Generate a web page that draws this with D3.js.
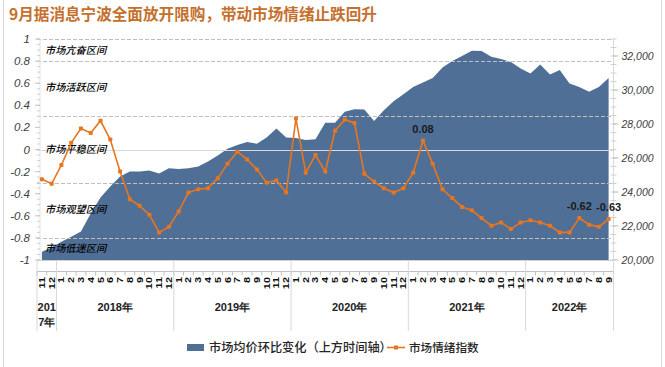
<!DOCTYPE html>
<html><head><meta charset="utf-8">
<script src="https://cdn.jsdelivr.net/npm/d3@7"></script>
<style>
html,body{margin:0;padding:0;background:#fff;}
svg{display:block;}
</style></head>
<body>
<svg id="c" width="665" height="367"></svg>
<script>
const titleText = "9月据消息宁波全面放开限购，带动市场情绪止跌回升";
const monthLabels = ["11","12",
 "1","2","3","4","5","6","7","8","9","10","11","12",
 "1","2","3","4","5","6","7","8","9","10","11","12",
 "1","2","3","4","5","6","7","8","9","10","11","12",
 "1","2","3","4","5","6","7","8","9","10","11","12",
 "1","2","3","4","5","6","7","8","9"];
const yearLabels = ["2017年","2018年","2019年","2020年","2021年","2022年"];
const yearCounts = [2,12,12,12,12,9];
const priceValues = [20490,20730,21080,21370,21670,22730,23680,24320,24910,25200,
 25200,25270,25090,25390,25360,25390,25500,25800,26150,26540,
 26770,26940,26840,27200,27730,27200,27170,27060,27110,28080,
 28080,28720,28870,28850,28180,28810,29340,29750,30180,30440,
 30700,31320,31700,32000,32310,32290,31950,31820,31640,31260,
 30970,31500,30910,31170,30380,30180,29890,30180,30710];
const sentimentValues = [-0.27,-0.31,-0.14,0.06,0.19,0.15,0.26,0.09,-0.20,-0.45,
 -0.51,-0.59,-0.75,-0.70,-0.56,-0.39,-0.36,-0.35,-0.26,-0.13,
 -0.02,-0.09,-0.18,-0.30,-0.28,-0.39,0.28,-0.21,-0.05,-0.20,
 0.17,0.27,0.24,-0.22,-0.29,-0.35,-0.39,-0.35,-0.21,0.08,
 -0.13,-0.36,-0.44,-0.52,-0.55,-0.62,-0.69,-0.66,-0.72,-0.66,
 -0.64,-0.66,-0.69,-0.75,-0.75,-0.62,-0.68,-0.70,-0.63];
const labeledIndex = [39,55,58];
const leftTicks = [1,0.8,0.6,0.4,0.2,0,-0.2,-0.4,-0.6,-0.8,-1];
const rightTicks = [20000,22000,24000,26000,28000,30000,32000];
const zoneLines = [1,0.8,0.3,-0.3,-0.8];
const zoneNames = ["市场亢奋区间","市场活跃区间","市场平稳区间","市场观望区间","市场低迷区间"];
const zoneLabelPos = [0.9,0.56,0.0,-0.54,-0.89];
const legendNames = ["市场均价环比变化（上方时间轴）","市场情绪指数"];

const areaColor = "#4F6F97", lineColor = "#E8761E";
const svg = d3.select("#c");
const idx = d3.range(monthLabels.length);
const x = d3.scaleBand().domain(idx).range([37, 613.5]).padding(0);
const cx = i => x(i) + x.bandwidth()/2;
const yL = d3.scaleLinear().domain([-1,1]).range([260,39]);
const yR = d3.scaleLinear().domain([20000,33000]).range([260,39]);

// frame
svg.append("rect").attr("x",3.5).attr("y",-1).attr("width",658).attr("height",369)
  .attr("fill","none").attr("stroke","#d9d9d9");

// title
svg.append("text").attr("x",9).attr("y",20).text(titleText)
  .attr("font-family","'Noto Sans CJK SC'").attr("font-weight","bold")
  .attr("font-size",15.6).attr("fill","#C5702D");

// area
const area = d3.area().x((d,i)=>cx(i)).y0(yR(20000)).y1(d=>yR(d));
svg.append("path").datum(priceValues).attr("d",area).attr("fill",areaColor);

// gridlines
svg.append("g").selectAll("line").data(zoneLines).join("line")
  .attr("x1",37).attr("x2",613).attr("y1",d=>Math.round(yL(d))+0.5).attr("y2",d=>Math.round(yL(d))+0.5)
  .attr("stroke","#bfbfbf").attr("stroke-dasharray","4,2").attr("stroke-width",1);
svg.append("line").attr("x1",37).attr("x2",613).attr("y1",Math.round(yL(0))+0.5).attr("y2",Math.round(yL(0))+0.5)
  .attr("stroke","#d9d9d9").attr("stroke-width",1.2);
svg.append("line").attr("x1",37).attr("x2",613).attr("y1",Math.round(yL(-1))+0.5).attr("y2",Math.round(yL(-1))+0.5)
  .attr("stroke","#d0d0d0").attr("stroke-width",1);

// left axis
const gL = svg.append("g").attr("transform","translate(40,0)");
gL.append("line").attr("y1",yL(1)).attr("y2",yL(-1)).attr("stroke","#e3e3e3");
gL.selectAll("line.mn").data(d3.range(-1,1.0001,0.05)).join("line").attr("class","mn")
  .attr("x1",-3).attr("x2",0).attr("y1",d=>yL(d)).attr("y2",d=>yL(d)).attr("stroke","#d0d0d0");
gL.selectAll("line.mj").data(leftTicks).join("line").attr("class","mj")
  .attr("x1",-5).attr("x2",0).attr("y1",d=>yL(d)).attr("y2",d=>yL(d)).attr("stroke","#c8c8c8");
gL.selectAll("text").data(leftTicks).join("text")
  .attr("x",-10).attr("y",d=>yL(d)).attr("dy","0.35em").attr("text-anchor","end")
  .attr("font-family","'Liberation Sans'").attr("font-style","italic").attr("font-size",11.5)
  .attr("fill","#404040").text(d=>d===0?"0":String(d));

// right axis
const gR = svg.append("g").attr("transform","translate(613.5,0)");
gR.append("line").attr("y1",yR(33000)).attr("y2",yR(20000)).attr("stroke","#d9d9d9");
gR.selectAll("line.mn").data(d3.range(20000,33001,500)).join("line").attr("class","mn")
  .attr("x1",-3).attr("x2",3).attr("y1",d=>yR(d)).attr("y2",d=>yR(d)).attr("stroke","#d0d0d0");
gR.selectAll("line.mj").data(rightTicks).join("line").attr("class","mj")
  .attr("x1",0).attr("x2",5).attr("y1",d=>yR(d)).attr("y2",d=>yR(d)).attr("stroke","#c0c0c0");
gR.selectAll("text").data(rightTicks).join("text")
  .attr("x",8).attr("y",d=>yR(d)).attr("dy","0.35em")
  .attr("font-family","'Liberation Sans'").attr("font-style","italic").attr("font-size",10.5)
  .attr("fill","#404040").text(d=>d3.format(",")(d));

// zone labels
svg.append("g").selectAll("text").data(zoneNames).join("text")
  .attr("x",45).attr("y",(d,i)=>yL(zoneLabelPos[i])).attr("dy","0.38em")
  .attr("font-family","'Noto Sans CJK SC'").attr("font-style","italic").attr("font-size",10.2)
  .attr("font-weight",500).attr("fill","#000").text(d=>d);

// sentiment line
const line = d3.line().x((d,i)=>cx(i)).y(d=>yL(d));
svg.append("path").datum(sentimentValues).attr("d",line).attr("fill","none")
  .attr("stroke",lineColor).attr("stroke-width",1.6);
svg.append("g").selectAll("rect").data(sentimentValues).join("rect")
  .attr("x",(d,i)=>cx(i)-2).attr("y",d=>yL(d)-2).attr("width",4).attr("height",4).attr("rx",0.8)
  .attr("fill",lineColor);
svg.append("g").selectAll("text").data(labeledIndex).join("text")
  .attr("x",i=>cx(i)).attr("y",i=>yL(sentimentValues[i])-8).attr("text-anchor","middle")
  .attr("font-family","'Liberation Sans'").attr("font-weight","bold").attr("font-size",11)
  .attr("fill","#1a1a1a").text(i=>sentimentValues[i].toFixed(2));

// x axis
const gx = svg.append("g");
gx.append("line").attr("x1",37).attr("x2",613.5).attr("y1",271.5).attr("y2",271.5).attr("stroke","#bfbfbf");
gx.selectAll("line.t").data(d3.range(monthLabels.length+1)).join("line").attr("class","t")
  .attr("x1",i=>x.range()[0]+i*x.bandwidth()).attr("x2",i=>x.range()[0]+i*x.bandwidth())
  .attr("y1",271.5).attr("y2",275.5).attr("stroke","#bfbfbf");
gx.selectAll("text.m").data(monthLabels).join("text").attr("class","m")
  .attr("transform",(d,i)=>`translate(${cx(i)},277) rotate(-90) scale(1.15,0.9)`)
  .attr("text-anchor","end").attr("dy","0.35em")
  .attr("font-family","'Liberation Sans'").attr("font-weight","bold").attr("font-size",9.5)
  .attr("fill","#111").text(d=>d);

// year groups
let starts = [], acc = 0;
yearCounts.forEach(c=>{starts.push(acc); acc+=c;});
const bounds = starts.concat([acc]);
gx.selectAll("line.y").data(bounds).join("line").attr("class","y")
  .attr("x1",b=>b<acc?x(b):x.range()[1]).attr("x2",b=>b<acc?x(b):x.range()[1])
  .attr("y1",261).attr("y2",331).attr("stroke","#d9d9d9");
yearLabels.forEach((lab,k)=>{
  const s = starts[k], e = s + yearCounts[k];
  const mid = (x(s) + (e<acc?x(e):x.range()[1]))/2;
  if (k===0) {
    const t = gx.append("text").attr("text-anchor","middle")
      .attr("font-family","'Liberation Sans'").attr("font-weight","bold").attr("font-size",11).attr("fill","#222");
    t.append("tspan").attr("x",mid).attr("y",311).text(lab.slice(0,3));
    t.append("tspan").attr("x",mid).attr("y",326).text(lab.slice(3));
  } else {
    gx.append("text").attr("x",mid).attr("y",311).attr("text-anchor","middle")
      .attr("font-family","'Liberation Sans'").attr("font-weight","bold").attr("font-size",11)
      .attr("fill","#222").text(lab);
  }
});

// legend
const lg = svg.append("g");
lg.append("rect").attr("x",187).attr("y",344).attr("width",17).attr("height",7).attr("fill",areaColor);
lg.append("text").attr("x",209).attr("y",351.5).text(legendNames[0])
  .attr("font-family","'Noto Sans CJK SC'").attr("font-size",12.2).attr("font-weight",500).attr("fill","#262626");
lg.append("line").attr("x1",387).attr("x2",405).attr("y1",347.5).attr("y2",347.5).attr("stroke",lineColor).attr("stroke-width",1.6);
lg.append("rect").attr("x",394).attr("y",345.5).attr("width",4).attr("height",4).attr("fill",lineColor);
lg.append("text").attr("x",409).attr("y",351.5).text(legendNames[1])
  .attr("font-family","'Noto Sans CJK SC'").attr("font-size",11.6).attr("font-weight",500).attr("fill","#262626");
</script>
</body></html>
